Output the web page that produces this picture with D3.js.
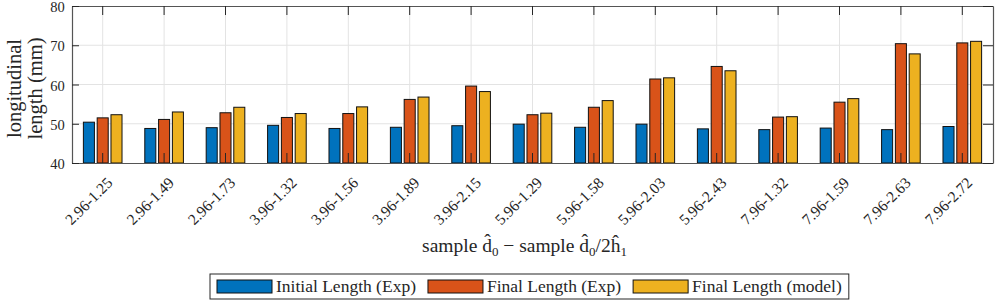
<!DOCTYPE html>
<html>
<head>
<meta charset="utf-8">
<script src="https://cdn.jsdelivr.net/npm/d3@7"></script>
<style>
  body { margin: 0; background: #fff; }
  svg { display: block; }
  text { font-family: "Liberation Serif", "DejaVu Serif", serif; fill: #262626; }
</style>
</head>
<body>
<div id="chart"></div>
<script>
// categories: sample d0 - sample d0/2h1
const categories = ['2.96-1.25','2.96-1.49','2.96-1.73','3.96-1.32','3.96-1.56','3.96-1.89','3.96-2.15',
                    '5.96-1.29','5.96-1.58','5.96-2.03','5.96-2.43','7.96-1.32','7.96-1.59','7.96-2.63','7.96-2.72'];
const seriesNames = ['Initial Length (Exp)', 'Final Length (Exp)', 'Final Length (model)'];
const initialExp = [50.4, 48.8, 49.0, 49.6, 48.8, 49.1, 49.5, 49.9, 49.1, 49.9, 48.7, 48.5, 48.9, 48.5, 49.3];
const finalExp   = [51.5, 51.1, 52.8, 51.6, 52.6, 56.2, 59.6, 52.3, 54.2, 61.4, 64.6, 51.7, 55.5, 70.4, 70.6];
const finalModel = [52.3, 53.0, 54.2, 52.6, 54.3, 56.8, 58.2, 52.7, 55.9, 61.7, 63.5, 51.8, 56.4, 67.8, 71.0];
const yTicks = [40, 50, 60, 70, 80];
const colors = ['#0072BD', '#D95319', '#EDB120'];

const width = 996, height = 301;
const margin = { top: 6, left: 72, right: 3, bottom: 138 };
const plotW = width - margin.left - margin.right;
const plotH = height - margin.top - margin.bottom;

const svg = d3.select('#chart').append('svg')
    .attr('width', width)
    .attr('height', height);

const g = svg.append('g').attr('transform', 'translate(' + margin.left + ',' + margin.top + ')');

const x = d3.scaleBand().domain(categories).range([0, plotW]);
const half = x.bandwidth() * 0.337;   // half width of a bar group
const xSub = d3.scaleBand().domain(seriesNames)
    .range([-half, half])
    .paddingInner(0.2).paddingOuter(0.1);
const y = d3.scaleLinear().domain([40, 80]).range([plotH, 0]);
const cx = d => x(d) + x.bandwidth() / 2;

// grid
g.append('g').selectAll('line').data(categories).enter().append('line')
    .attr('x1', cx).attr('x2', cx).attr('y1', 0).attr('y2', plotH)
    .attr('stroke', '#e3e3e3').attr('stroke-width', 1);
g.append('g').selectAll('line').data(yTicks.slice(1, -1)).enter().append('line')
    .attr('x1', 0).attr('x2', plotW).attr('y1', d => y(d)).attr('y2', d => y(d))
    .attr('stroke', '#e3e3e3').attr('stroke-width', 1);

// bars
const series = [initialExp, finalExp, finalModel];
series.forEach(function(vals, s) {
    g.append('g').selectAll('rect')
        .data(vals)
        .enter().append('rect')
            .attr('x', (d, i) => cx(categories[i]) + xSub(seriesNames[s]))
            .attr('width', xSub.bandwidth())
            .attr('y', d => y(d))
            .attr('height', d => y(40) - y(d))
            .attr('fill', colors[s])
            .attr('stroke', '#111')
            .attr('stroke-width', 1);
});

// axes (ticks inward)
const xAxis = d3.axisBottom(x).tickSize(-10).tickSizeOuter(0).tickFormat('');
g.append('g').attr('class', 'axis x')
    .attr('transform', 'translate(0,' + plotH + ')')
    .call(xAxis);
const xAxisTop = d3.axisTop(x).tickSize(-9).tickSizeOuter(0).tickFormat('');
g.append('g').attr('class', 'axis xt').call(xAxisTop);

const yAxis = d3.axisLeft(y).tickValues(yTicks).tickSize(-7).tickSizeOuter(0).tickPadding(16);
g.append('g').attr('class', 'axis y').call(yAxis);
const yAxisR = d3.axisRight(y).tickValues(yTicks).tickSize(-10).tickSizeOuter(0).tickFormat('');
g.append('g').attr('class', 'axis yr').attr('transform', 'translate(' + plotW + ',0)').call(yAxisR);

g.selectAll('.axis path').attr('stroke', '#555').attr('stroke-width', 1.2);
g.selectAll('.axis line').attr('stroke', '#262626').attr('stroke-width', 1);
g.selectAll('.axis.y text').attr('font-size', 14.5).attr('font-family', '"Liberation Serif", serif')
    .attr('fill', '#262626').attr('dx', '0.6em').attr('dy', '0.38em');

// rotated category labels
g.append('g').selectAll('text').data(categories).enter().append('text')
    .attr('transform', d => 'translate(' + (cx(d) + 7) + ',' + (plotH + 17) + ') rotate(-45)')
    .attr('text-anchor', 'end')
    .attr('dy', '0.35em')
    .attr('font-size', 15.5)
    .text(d => d);

// y label
const yl = svg.append('text')
    .attr('transform', 'translate(23,' + (margin.top + plotH / 2 + 4) + ') rotate(-90)')
    .attr('text-anchor', 'middle')
    .attr('font-size', 20.5);
yl.append('tspan').attr('x', 0).attr('dy', '-0.1em').text('longitudinal');
yl.append('tspan').attr('x', 0).attr('dy', '1.05em').text('length (mm)');

// x label
const xl = svg.append('text')
    .attr('x', margin.left + plotW / 2 - 8)
    .attr('y', 252)
    .attr('text-anchor', 'middle')
    .attr('font-size', 19.5);
xl.append('tspan').text('sample d\u0302');
xl.append('tspan').attr('font-size', 13).attr('dy', 4).text('0');
xl.append('tspan').attr('dy', -4).text(' \u2212 sample d\u0302');
xl.append('tspan').attr('font-size', 13).attr('dy', 4).text('0');
xl.append('tspan').attr('dy', -4).text('/2h\u0302');
xl.append('tspan').attr('font-size', 13).attr('dy', 4).text('1');

// legend
const legend = svg.append('g');
const box = legend.append('rect')
    .attr('x', 210).attr('y', 274).attr('height', 25)
    .attr('fill', '#fff').attr('stroke', '#262626').attr('stroke-width', 1);
let lx = 217;
seriesNames.forEach(function(name, i) {
    legend.append('rect')
        .attr('x', lx).attr('y', 280).attr('width', 55).attr('height', 13)
        .attr('fill', colors[i]).attr('stroke', '#111').attr('stroke-width', 1);
    const t = legend.append('text')
        .attr('x', lx + 59).attr('y', 292)
        .attr('font-size', 17.5)
        .text(name);
    lx = lx + 59 + t.node().getComputedTextLength() + 12;
});
box.attr('width', lx - 12 + 7 - 210);
</script>
</body>
</html>
